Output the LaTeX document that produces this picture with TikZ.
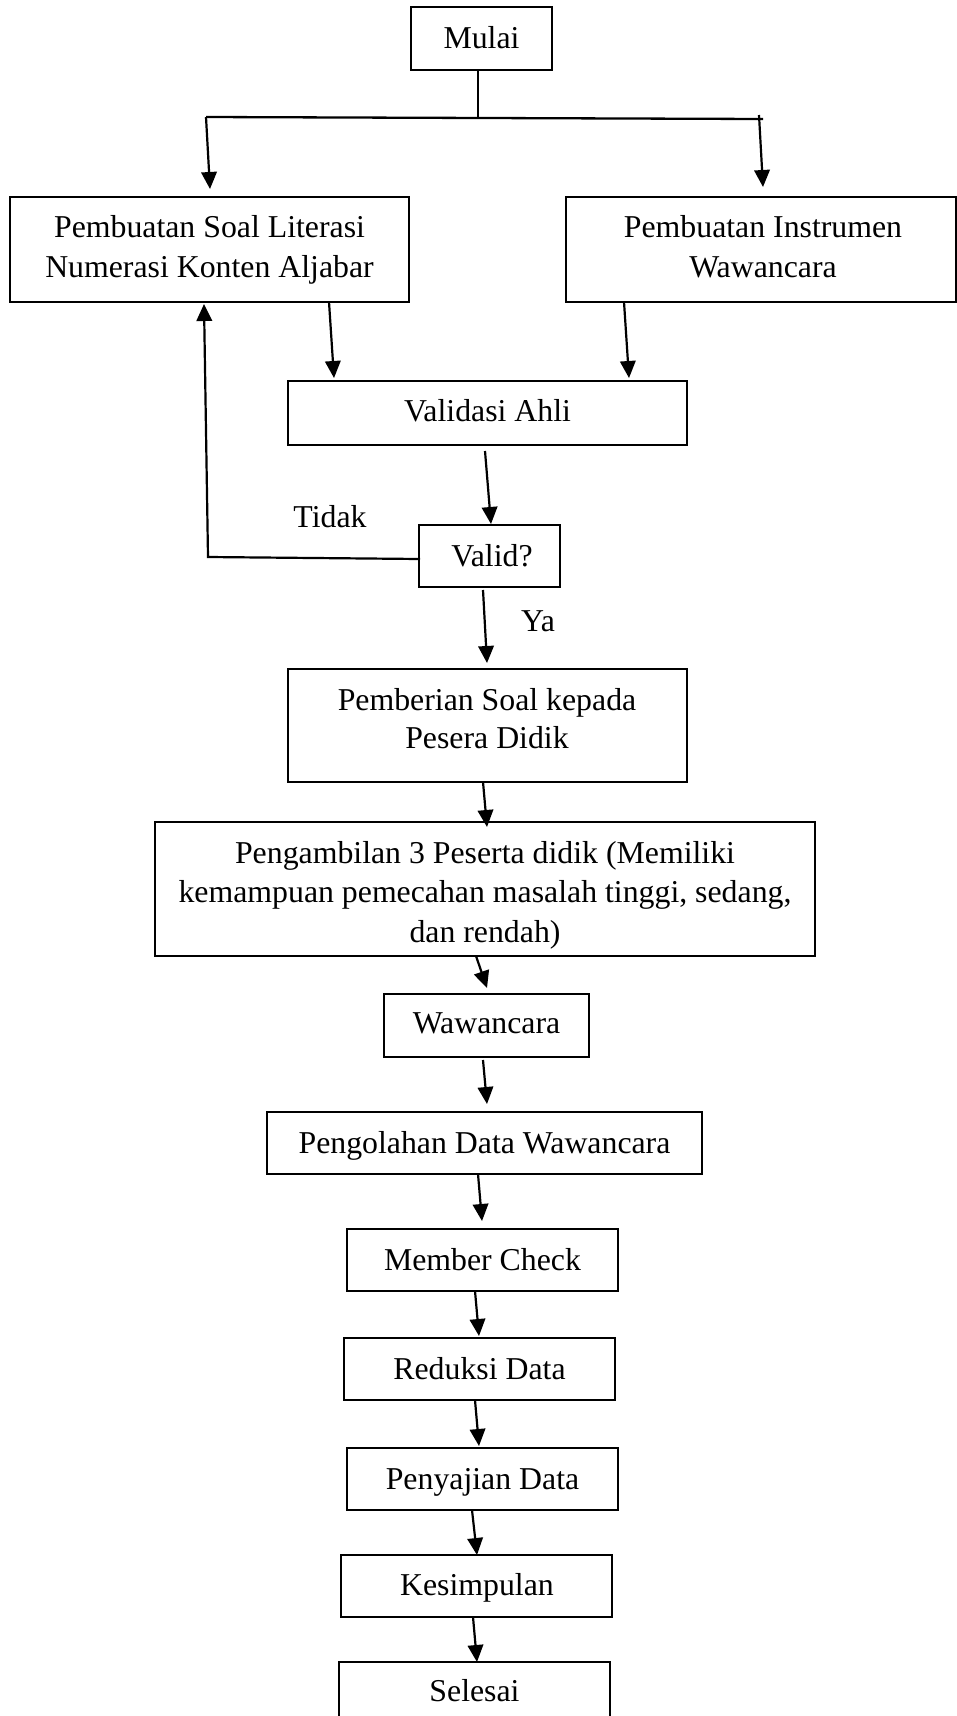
\documentclass[tikz,border=0pt]{standalone}
\usepackage{fontspec}
\setmainfont{Liberation Serif}
\usetikzlibrary{arrows.meta,calc}
\begin{document}
\begin{tikzpicture}[x=1pt,y=-1pt,
  box/.style={draw, line width=1.8pt, inner sep=0pt, outer sep=0pt},
  lbl/.style={anchor=base, inner sep=0pt, outer sep=0pt, font=\fontsize{31.8}{39.5}\selectfont},
  arr/.style={line width=2.2pt, -{Triangle[length=17pt,width=15.5pt]}},
  ln/.style={line width=2.3pt}]
\useasboundingbox (0,0) rectangle (957,1716);
\fill[white] (0,0) rectangle (957,1716);
\clip (0,0) rectangle (957,1716);

% boxes
\node[box, minimum width=141pt, minimum height=63pt] (mulai) at (481.5,38.5) {};
\node[box, minimum width=399pt, minimum height=105pt] (soal) at (209.5,249.5) {};
\node[box, minimum width=390pt, minimum height=105pt] (instr) at (761,249.5) {};
\node[box, minimum width=399pt, minimum height=64pt] (validasi) at (487.5,413) {};
\node[box, minimum width=141pt, minimum height=62pt] (valid) at (489.5,556) {};
\node[box, minimum width=399pt, minimum height=113pt] (pemberian) at (487.5,725.5) {};
\node[box, minimum width=660pt, minimum height=134pt] (pengambilan) at (485,889) {};
\node[box, minimum width=205pt, minimum height=63pt] (wawancara) at (486.5,1025.5) {};
\node[box, minimum width=435pt, minimum height=62pt] (pengolahan) at (484.5,1143) {};
\node[box, minimum width=271pt, minimum height=62pt] (member) at (482.5,1260) {};
\node[box, minimum width=271pt, minimum height=62pt] (reduksi) at (479.5,1369) {};
\node[box, minimum width=271pt, minimum height=62pt] (penyajian) at (482.5,1479) {};
\node[box, minimum width=271pt, minimum height=62pt] (kesimpulan) at (476.5,1586) {};
\node[box, minimum width=271pt, minimum height=62pt] (selesai) at (474.5,1693) {};

% texts
\node[lbl] (mulai-t) at (481.5,48.8) {Mulai};
\node[lbl] (soal-t1) at (209.5,237.2) {Pembuatan Soal Literasi};
\node[lbl] (soal-t2) at (209.5,277.2) {Numerasi Konten Aljabar};
\node[lbl] (instr-t1) at (763,237.2) {Pembuatan Instrumen};
\node[lbl] (instr-t2) at (763,277.2) {Wawancara};
\node[lbl] (validasi-t) at (487.5,421) {Validasi Ahli};
\node[lbl] (valid-t) at (492,566) {Valid?};
\node[lbl] (tidak) at (330,527) {Tidak};
\node[lbl] (ya) at (538,631) {Ya};
\node[lbl] (pemberian-t1) at (487,710.5) {Pemberian Soal kepada};
\node[lbl] (pemberian-t2) at (487,748.8) {Pesera Didik};
\node[lbl] (pengambilan-t1) at (485,863) {Pengambilan 3 Peserta didik (Memiliki};
\node[lbl] (pengambilan-t2) at (485,902) {kemampuan pemecahan masalah tinggi, sedang,};
\node[lbl] (pengambilan-t3) at (485,942) {dan rendah)};
\node[lbl] (wawancara-t) at (486.5,1033.6) {Wawancara};
\node[lbl] (pengolahan-t) at (484.5,1153.3) {Pengolahan Data Wawancara};
\node[lbl] (member-t) at (482.5,1270.2) {Member Check};
\node[lbl] (reduksi-t) at (479.5,1379.7) {Reduksi Data};
\node[lbl] (penyajian-t) at (482.5,1489.3) {Penyajian Data};
\node[lbl] (kesimpulan-t) at (477,1595.5) {Kesimpulan};
\node[lbl] (selesai-t) at (474.5,1701.8) {Selesai};

% split
\coordinate (sm) at (478,117.5);
\coordinate (sl) at (206,117);
\coordinate (sr) at (763,119);
\coordinate (srt) at (759,115);
\draw[ln] ($(mulai.south)+(-3.5,0)$) -- (sm);
\draw[ln] (sl) -- (sr);
\draw[arr] (sl) -- ($(soal.north)+(0.5,-8)$);
\draw[arr] (srt) -- ($(instr.north)+(2,-10)$);

% to validasi
\draw[arr] ($(soal.south)+(119.5,0)$) -- ($(validasi.north)+(-153.5,-3)$);
\draw[arr] ($(instr.south)+(-137,0)$) -- ($(validasi.north)+(141.5,-3)$);
\draw[arr] ($(validasi.south)+(-2.5,6)$) -- ($(valid.north)+(1.5,-1)$);

% Tidak loop
\coordinate (loop) at (208,557);
\draw[arr] ($(valid.west)+(1,3)$) -- (loop) -- ($(soal.south)+(-5.5,2)$);

% main chain
\draw[arr] ($(valid.south)+(-6.5,3)$) -- ($(pemberian.north)+(-0.5,-6)$);
\draw[arr] ($(pemberian.south)+(-4.5,0)$) -- ($(pengambilan.north)+(2,5)$);
\draw[arr] ($(pengambilan.south)+(-9,0)$) -- ($(wawancara.north)+(0.5,-6)$);
\draw[arr] ($(wawancara.south)+(-3.5,3)$) -- ($(pengolahan.north)+(2.5,-8)$);
\draw[arr] ($(pengolahan.south)+(-6.5,0)$) -- ($(member.north)+(-0.5,-8)$);
\draw[arr] ($(member.south)+(-7.5,0)$) -- ($(reduksi.north)+(-0.5,-2)$);
\draw[arr] ($(reduksi.south)+(-4.5,0)$) -- ($(penyajian.north)+(-3.5,-2)$);
\draw[arr] ($(penyajian.south)+(-10.5,0)$) -- ($(kesimpulan.north)+(0.5,0)$);
\draw[arr] ($(kesimpulan.south)+(-3.5,0)$) -- ($(selesai.north)+(2.5,0)$);
\end{tikzpicture}
\end{document}
